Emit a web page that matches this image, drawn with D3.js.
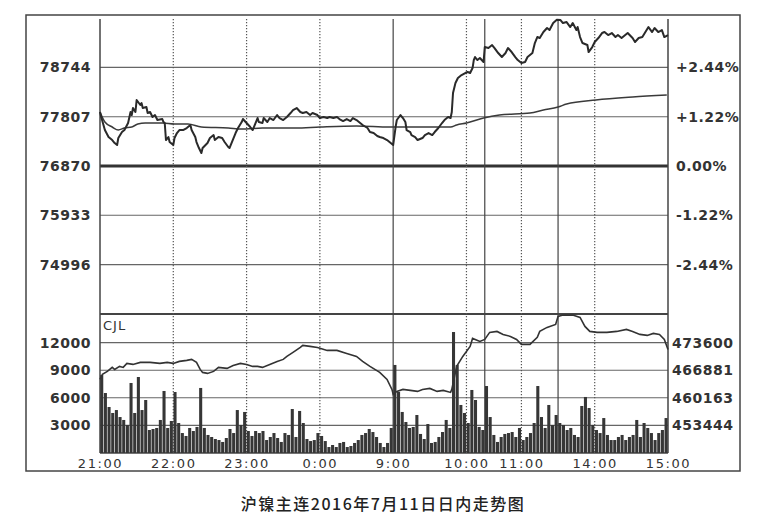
<!DOCTYPE html>
<html><head><meta charset="utf-8">
<script src="https://cdn.jsdelivr.net/npm/d3@7"></script>
<style>
html,body{margin:0;padding:0;background:#fff;}
svg{display:block;}
.lbl{font-family:"DejaVu Sans",Verdana,sans-serif;font-weight:bold;font-size:14px;fill:#333;letter-spacing:0.5px;}
.tm{font-family:"DejaVu Sans",Verdana,sans-serif;font-size:13px;fill:#333;letter-spacing:1.6px;}
</style></head>
<body><svg id="c" width="775" height="525"></svg>
<script>
// ---- data (trading-minute offsets from 21:00; night 21:00-1:00, day 9:00-10:15, 10:30-11:30, 13:30-15:00) ----
const tickLabels  = ["21:00","22:00","23:00","0:00","9:00","10:00","11:00","14:00","15:00"];
const tickMinutes = [0,60,120,180,240,300,345,405,465];
const solidMinutes  = [240,315,375];
const dottedMinutes = [60,120,180,300,345,405];
const priceTicks = [78744,77807,76870,75933,74996];
const pctLabels  = ["+2.44%","+1.22%","0.00%","-1.22%","-2.44%"];
const volTicks   = [12000,9000,6000,3000];
const oiTicks    = [473600,466881,460163,453444];

const priceT = [0,1,4,7,10,12,14,15,18,20,23,25,26,27,29,30,33,34,35,38,39,41,43,45,47,51,52,53,54,56,57,60,61,63,65,68,71,74,75,78,79,81,83,84,88,90,93,94,97,100,102,105,106,108,111,113,116,117,120,123,125,129,130,133,134,137,139,142,145,147,150,153,156,158,161,164,166,169,172,174,178,180,183,186,188,191,194,196,199,202,205,207,210,213,215,219,221,224,227,229,232,235,237,240,
  242,243,246,248,250,251,254,255,258,260,264,266,269,272,274,277,280,282,285,287,288,289,291,293,296,299,301,303,305,306,307,309,311,314,315,318,321,323,326,329,332,334,337,340,342,345,348,350,354,356,358,360,363,366,368,371,374,377,379,382,385,387,390,391,393,395,399,400,403,405,408,411,413,416,419,422,424,427,430,432,436,438,441,444,446,449,452,454,457,460,462,465];
const priceV = [77896,77801,77554,77421,77364,77307,77269,77402,77516,77554,77687,77896,77839,77972,77896,78124,78029,78067,77972,77991,77877,77896,77801,77839,77744,77763,77706,77687,77364,77421,77326,77269,77402,77497,77554,77554,77592,77649,77554,77421,77326,77212,77117,77212,77307,77402,77459,77364,77421,77402,77326,77231,77212,77326,77497,77592,77706,77763,77687,77611,77554,77782,77706,77687,77782,77706,77782,77744,77839,77782,77744,77801,77877,77934,77972,77896,77877,77896,77839,77877,77839,77782,77801,77782,77801,77782,77801,77763,77725,77763,77725,77782,77744,77687,77649,77592,77516,77497,77440,77421,77402,77364,77326,77269,
  77611,77744,77839,77782,77706,77554,77516,77459,77421,77364,77402,77459,77497,77459,77516,77592,77687,77744,77801,77782,77896,78257,78447,78542,78599,78637,78656,78637,78732,78884,78941,78884,78922,78846,79131,79112,79169,79112,79017,78941,79017,79112,79036,78941,78884,78827,78846,78941,79017,79207,79321,79302,79416,79492,79454,79587,79650,79644,79587,79606,79511,79587,79454,79511,79321,79207,79169,79036,79131,79226,79302,79397,79416,79359,79397,79321,79359,79302,79359,79397,79302,79226,79302,79321,79397,79511,79416,79492,79416,79454,79321,79359];

const avgT = [0,4,10,15,20,26,31,37,51,61,72,83,105,116,133,160,180,210,237,264,287,292,300,314,327,352,363,375,382,406,436,464];
const avgV = [77896,77706,77611,77554,77592,77611,77668,77687,77687,77668,77668,77611,77592,77573,77592,77592,77611,77630,77611,77611,77611,77649,77687,77782,77839,77877,77934,77991,78048,78124,78181,78219];

const oiT = [0,2,6,10,12,16,19,22,27,33,41,49,55,60,65,71,75,79,82,84,88,93,97,104,109,115,120,125,129,133,139,145,150,153,158,164,166,172,178,186,194,202,210,215,221,229,235,239,240,243,248,254,260,264,270,276,281,287,288,292,297,303,305,311,315,319,325,330,336,341,345,352,358,360,366,373,375,379,387,393,397,401,407,415,423,431,436,442,448,453,458,462,465];
const oiV = [464640,465857,466588,467561,467074,467805,467561,468535,468291,468778,468778,468535,468778,468535,469022,469265,469508,468778,467074,466344,466101,466588,467561,467318,468048,468535,468291,467805,467805,467561,468291,469022,469508,470239,471212,472429,472916,472673,472429,471699,471699,470969,470239,469022,467805,466344,464640,462206,460989,461720,462206,461963,461720,462206,462450,461720,461963,461476,462206,467805,470239,472673,474620,473890,474376,476080,476324,475593,475107,474376,473159,473159,474863,476324,477297,478027,479975,480300,480300,479731,477541,476324,476080,476080,476324,476810,476324,475593,475350,475837,475593,474376,471942];

// volume per 3-minute bin (155 bins)
const volume = [8480,6520,5000,4350,4670,3910,3590,3040,7610,4350,8260,4670,5760,2500,2610,2720,3590,6740,2720,3480,6630,3260,2170,1850,2720,2390,2830,7070,2720,1960,1740,1520,1410,1200,1630,2610,2170,4670,3040,4460,2390,1850,2390,2170,2390,1410,1740,2170,1630,1200,2170,1960,4780,1740,4570,3260,1520,1300,1410,2170,1850,1300,650,870,650,1090,1200,650,760,1090,1410,1960,2170,2610,2280,1740,1090,650,1090,2720,
  9570,6630,4460,3370,2720,2830,4130,2070,1520,3150,1090,1200,1740,2280,3590,2720,13150,9570,5220,4350,3260,6850,5760,2830,2500,7280,3910,1960,1200,1740,2070,2170,2280,1740,2720,1410,1740,2170,3260,7280,3910,2720,5220,3040,4130,3260,3040,2500,2720,1960,1740,5110,6090,4890,3040,2500,2170,3800,1960,1410,1410,1740,1960,1410,1740,1960,3590,1740,3260,2720,2170,1410,2170,2500,3800];

const title = "沪镍主连2016年7月11日日内走势图";

// ---- drawing ----
const svg = d3.select("#c");
const L = 100, R = 668, T = 19, PB = 314, VB = 453;
const x = d3.scaleLinear().domain([0,465]).range([L,R]);
const yP = d3.scaleLinear().domain([74057,79664]).range([PB,T]);
const yV = d3.scaleLinear().domain([0,15000]).range([VB,315]);
const yO = d3.scaleLinear().domain([446725,480319]).range([VB,315]);

// outer frame
svg.append("rect").attr("x",26).attr("y",15).attr("width",714).attr("height",456)
  .attr("fill","none").attr("stroke","#444").attr("stroke-width",1.5);

const grid = svg.append("g");
priceTicks.forEach(v => {
  grid.append("line").attr("x1",L).attr("x2",R).attr("y1",yP(v)).attr("y2",yP(v))
    .attr("stroke", v===76870 ? "#333" : "#666").attr("stroke-width", v===76870 ? 3 : 1.1);
});
volTicks.forEach(v => {
  grid.append("line").attr("x1",L).attr("x2",R).attr("y1",yV(v)).attr("y2",yV(v))
    .attr("stroke","#666").attr("stroke-width",1.1);
});
grid.append("line").attr("x1",L).attr("x2",R).attr("y1",PB).attr("y2",PB).attr("stroke","#444").attr("stroke-width",2);
grid.append("line").attr("x1",L).attr("x2",R).attr("y1",VB).attr("y2",VB).attr("stroke","#444").attr("stroke-width",1.5);
dottedMinutes.forEach(m => {
  grid.append("line").attr("x1",x(m)).attr("x2",x(m)).attr("y1",T).attr("y2",VB)
    .attr("stroke","#555").attr("stroke-width",1.2).attr("stroke-dasharray","1.2,1.8");
});
solidMinutes.forEach(m => {
  grid.append("line").attr("x1",x(m)).attr("x2",x(m)).attr("y1",T).attr("y2",VB)
    .attr("stroke","#444").attr("stroke-width",1.2);
});
[0,465].forEach(m => {
  grid.append("line").attr("x1",x(m)).attr("x2",x(m)).attr("y1",T).attr("y2",VB)
    .attr("stroke","#444").attr("stroke-width",1.5);
});

// volume bars
const bw = x(3)-x(0);
svg.append("g").selectAll("rect").data(volume).join("rect")
  .attr("x",(d,i)=>x(i*3)+0.2).attr("width",bw-0.6)
  .attr("y",d=>yV(d)).attr("height",d=>VB-yV(d)).attr("fill","#363636");

// open interest line
svg.append("path").datum(d3.range(oiT.length))
  .attr("d", d3.line().x(i=>x(oiT[i])).y(i=>yO(oiV[i])))
  .attr("fill","none").attr("stroke","#333").attr("stroke-width",1.6);

// average price
svg.append("path").datum(d3.range(avgT.length))
  .attr("d", d3.line().x(i=>x(avgT[i])).y(i=>yP(avgV[i])).curve(d3.curveMonotoneX))
  .attr("fill","none").attr("stroke","#3a3a3a").attr("stroke-width",1.5);

// price line
svg.append("path").datum(d3.range(priceT.length))
  .attr("d", d3.line().x(i=>x(priceT[i])).y(i=>yP(priceV[i])))
  .attr("fill","none").attr("stroke","#2a2a2a").attr("stroke-width",2).attr("stroke-linejoin","round");

// axes
function style(g){ g.select(".domain").remove(); g.selectAll(".tick line").remove(); }
svg.append("g").attr("transform",`translate(${L},0)`)
  .call(d3.axisLeft(yP).tickValues(priceTicks).tickSize(0).tickPadding(9).tickFormat(d=>String(d)))
  .call(style).selectAll("text").attr("class","lbl");
svg.append("g").attr("transform",`translate(${R},0)`)
  .call(d3.axisRight(yP).tickValues(priceTicks).tickSize(0).tickPadding(8).tickFormat((d,i)=>pctLabels[i]))
  .call(style).selectAll("text").attr("class","lbl");
svg.append("g").attr("transform",`translate(${L},0)`)
  .call(d3.axisLeft(yV).tickValues(volTicks).tickSize(0).tickPadding(9).tickFormat(d=>String(d)))
  .call(style).selectAll("text").attr("class","lbl");
svg.append("g").attr("transform",`translate(${R},0)`)
  .call(d3.axisRight(yO).tickValues(oiTicks).tickSize(0).tickPadding(4).tickFormat(d=>String(d)))
  .call(style).selectAll("text").attr("class","lbl");
svg.append("g").attr("transform",`translate(0,${VB})`)
  .call(d3.axisBottom(x).tickValues(tickMinutes).tickSize(0).tickPadding(6).tickFormat((d,i)=>tickLabels[i]))
  .call(style).selectAll("text").attr("class","tm");

// CJL label
svg.append("text").attr("x",103).attr("y",330).attr("class","tm").style("letter-spacing","1px").text("CJL");

// title
svg.append("text").attr("x",383).attr("y",510).attr("text-anchor","middle")
  .attr("font-family","'Noto Sans CJK SC','Noto Sans',sans-serif").attr("font-size",16).attr("font-weight",500)
  .attr("letter-spacing","1.5px").attr("fill","#222").text(title);
</script></body></html>
